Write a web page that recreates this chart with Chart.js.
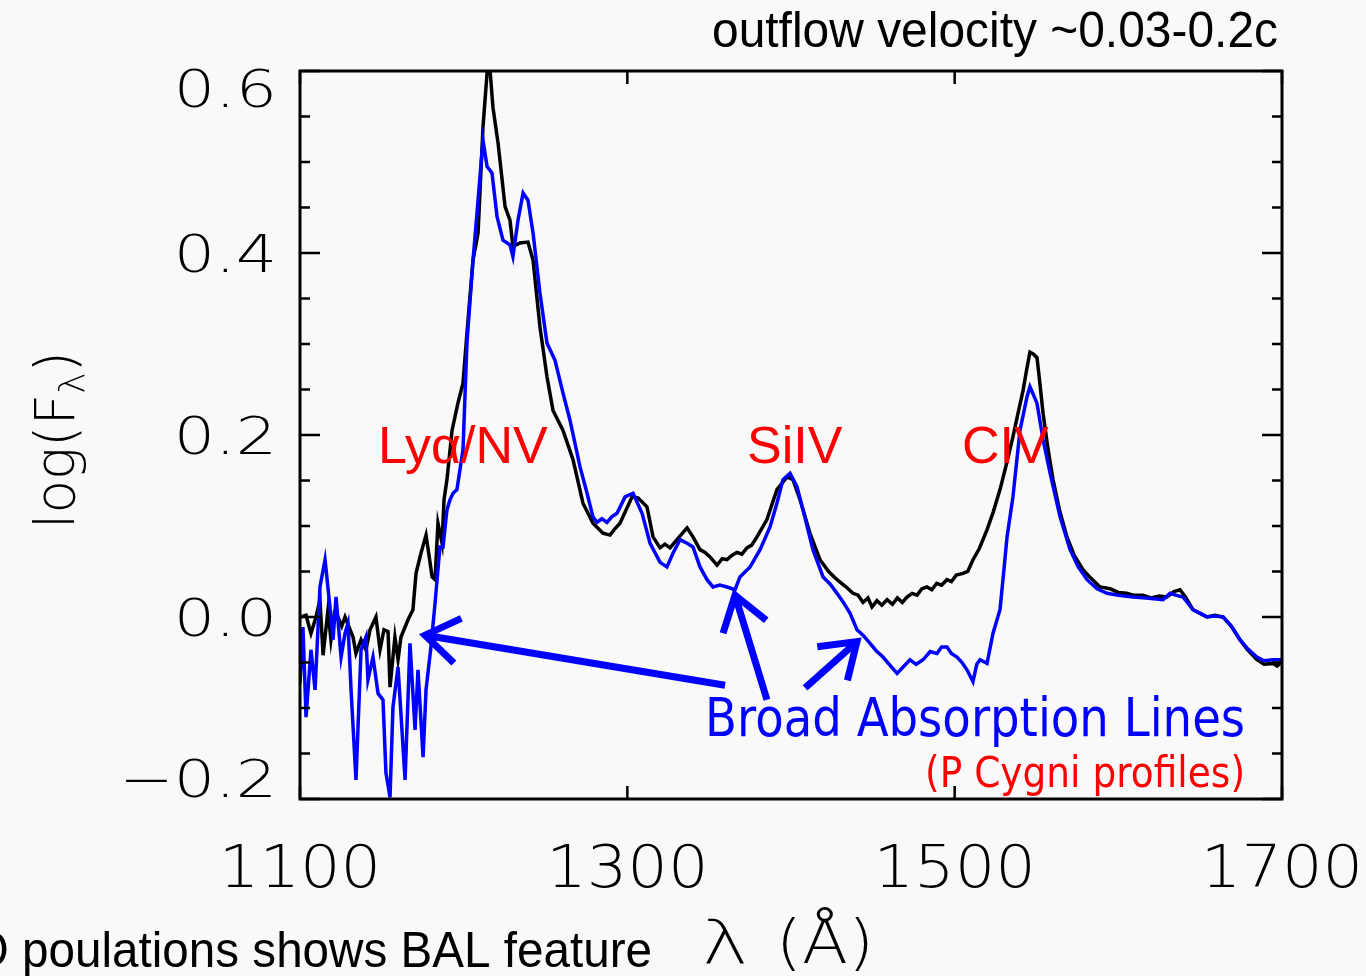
<!DOCTYPE html>
<html>
<head>
<meta charset="utf-8">
<script src="https://cdn.jsdelivr.net/npm/chart.js@4"></script>
<style>
  html, body { margin: 0; padding: 0; background: #f9f9f9; }
  canvas { display: block; }
</style>
</head>
<body>
<canvas id="spec" width="1366" height="976"></canvas>
<script>
// BAL quasar composite spectrum - log flux vs rest wavelength

// black: non-BAL composite
const blackWave = [1100.6,1103.7,1106.7,1109.8,1112.2,1114.1,1117.1,1118.9,1121.0,1123.2,1125.5,1127.5,1130.6,1132.4,1134.2,1137.3,1140.3,1142.8,1146.4,1148.9,1151.3,1153.8,1155.0,1158.0,1159.9,1161.7,1166.0,1169.0,1170.9,1173.9,1177.0,1178.8,1180.7,1182.5,1184.3,1186.8,1188.0,1189.8,1192.9,1196.5,1199.6,1202.0,1205.7,1208.8,1211.8,1214.3,1215.5,1217.9,1221.0,1225.3,1228.3,1230.1,1234.4,1239.3,1242.4,1246.6,1250.9,1254.6,1260.7,1266.8,1272.9,1279.0,1285.1,1289.4,1292.0,1295.5,1302.9,1306.5,1312.0,1315.7,1320.0,1323.0,1326.1,1330.3,1336.5,1340.1,1344.4,1347.5,1350.5,1354.8,1358.0,1360.9,1364.0,1367.0,1370.0,1373.1,1376.0,1379.2,1385.3,1391.4,1397.6,1401.2,1405.5,1411.6,1417.7,1423.0,1428.1,1433.0,1437.9,1441.0,1444.0,1447.0,1449.5,1452.5,1455.5,1458.7,1462.0,1465.0,1468.0,1470.9,1474.0,1477.0,1480.0,1483.1,1486.0,1489.0,1492.0,1495.3,1498.0,1501.0,1505.1,1508.0,1511.2,1515.0,1519.8,1523.5,1527.7,1531.5,1535.6,1538.5,1541.8,1544.0,1546.0,1548.0,1550.3,1552.0,1554.0,1557.0,1560.1,1564.0,1568.6,1573.0,1578.4,1583.0,1588.8,1595.0,1600.0,1605.0,1609.0,1615.0,1620.0,1625.0,1629.7,1634.0,1637.7,1641.0,1645.6,1650.0,1654.2,1659.0,1664.0,1669.0,1674.3,1679.0,1684.7,1689.0,1694.5,1697.0,1700.0];
const blackFlux = [0.000,0.002,-0.018,0.000,0.019,-0.042,0.008,-0.025,0.004,0.000,-0.010,0.000,-0.014,-0.022,-0.040,-0.025,-0.036,-0.014,0.000,-0.036,-0.014,-0.016,-0.077,-0.022,-0.047,-0.022,-0.003,0.008,0.048,0.070,0.090,0.068,0.044,0.041,0.103,0.081,0.129,0.151,0.205,0.235,0.257,0.312,0.392,0.422,0.538,0.598,0.615,0.560,0.521,0.451,0.436,0.407,0.411,0.412,0.392,0.319,0.264,0.227,0.205,0.173,0.125,0.103,0.092,0.090,0.096,0.103,0.132,0.131,0.121,0.088,0.076,0.080,0.076,0.085,0.098,0.088,0.074,0.071,0.066,0.057,0.064,0.063,0.068,0.071,0.069,0.076,0.079,0.088,0.107,0.140,0.154,0.151,0.129,0.092,0.063,0.050,0.041,0.034,0.026,0.024,0.016,0.021,0.011,0.018,0.013,0.019,0.014,0.021,0.016,0.022,0.026,0.024,0.031,0.033,0.030,0.037,0.035,0.041,0.039,0.046,0.048,0.050,0.063,0.075,0.096,0.115,0.140,0.167,0.198,0.222,0.249,0.272,0.291,0.289,0.285,0.258,0.224,0.185,0.151,0.118,0.088,0.068,0.052,0.043,0.033,0.031,0.027,0.026,0.024,0.024,0.021,0.023,0.022,0.028,0.030,0.022,0.008,0.004,0.000,0.002,0.000,-0.010,-0.025,-0.036,-0.047,-0.052,-0.051,-0.054,-0.049];

// blue: BAL composite
const blueWave = [1100.0,1101.8,1103.7,1106.7,1109.2,1112.2,1115.3,1118.3,1120.2,1122.0,1125.1,1127.5,1129.3,1131.2,1134.2,1137.3,1140.3,1141.5,1144.6,1147.7,1150.7,1152.5,1155.0,1156.8,1159.9,1164.2,1167.2,1170.3,1172.1,1175.2,1177.0,1180.0,1182.5,1185.5,1187.4,1189.8,1191.7,1193.5,1195.9,1199.6,1202.0,1205.7,1208.8,1211.8,1214.3,1217.3,1220.4,1224.0,1228.3,1230.1,1233.2,1236.3,1239.3,1242.4,1246.6,1250.9,1255.8,1260.7,1265.0,1271.1,1275.4,1279.0,1281.5,1284.5,1287.6,1290.5,1293.7,1298.6,1303.5,1309.0,1313.9,1320.0,1324.2,1327.9,1332.2,1336.5,1340.1,1344.4,1348.7,1352.3,1356.5,1360.9,1365.8,1368.8,1375.0,1381.1,1387.2,1391.4,1395.1,1399.4,1403.7,1407.3,1413.4,1419.6,1424.0,1428.1,1432.0,1436.1,1440.3,1444.0,1448.3,1452.0,1456.2,1460.0,1464.8,1468.5,1472.7,1476.5,1480.7,1485.0,1489.2,1492.0,1495.3,1498.0,1501.4,1504.5,1507.5,1511.2,1513.5,1515.5,1519.8,1523.4,1527.7,1530.0,1532.0,1535.6,1539.9,1544.2,1546.0,1550.3,1554.0,1558.3,1564.4,1570.5,1575.5,1580.9,1587.0,1593.1,1600.0,1609.0,1617.0,1627.3,1631.6,1635.0,1639.5,1645.6,1650.0,1654.2,1659.0,1664.0,1669.0,1674.3,1679.0,1684.7,1689.0,1694.5,1700.0];
const blueFlux = [-0.073,-0.011,-0.110,-0.036,-0.080,0.033,0.063,0.011,-0.025,0.022,-0.044,-0.018,-0.007,-0.080,-0.179,-0.036,-0.022,-0.069,-0.044,-0.084,-0.091,-0.171,-0.198,-0.099,-0.055,-0.179,-0.029,-0.124,-0.058,-0.154,-0.080,-0.033,0.015,0.077,0.077,0.118,0.129,0.136,0.140,0.184,0.301,0.392,0.458,0.524,0.495,0.488,0.440,0.414,0.409,0.396,0.436,0.466,0.458,0.422,0.356,0.301,0.282,0.246,0.216,0.165,0.136,0.110,0.104,0.108,0.104,0.110,0.114,0.132,0.136,0.114,0.081,0.060,0.055,0.070,0.085,0.081,0.077,0.055,0.041,0.033,0.035,0.033,0.030,0.044,0.055,0.074,0.099,0.125,0.151,0.158,0.143,0.118,0.074,0.044,0.036,0.026,0.016,0.004,-0.014,-0.020,-0.029,-0.037,-0.044,-0.052,-0.062,-0.055,-0.047,-0.052,-0.047,-0.038,-0.040,-0.033,-0.033,-0.040,-0.044,-0.050,-0.058,-0.071,-0.052,-0.047,-0.051,-0.018,0.008,0.050,0.088,0.132,0.205,0.242,0.253,0.235,0.195,0.158,0.110,0.074,0.055,0.041,0.031,0.026,0.024,0.022,0.021,0.019,0.026,0.024,0.022,0.008,0.004,0.000,0.001,0.000,-0.010,-0.025,-0.035,-0.044,-0.048,-0.047,-0.047];

// axes
const xTickValues = [1100, 1300, 1500, 1700];
const xTickLabels = ['1100', '1300', '1500', '1700'];
const yTickValues = [0.6, 0.4, 0.2, 0.0, -0.2];
const yTickLabels = ['0.6', '0.4', '0.2', '0.0', '\u22120.2'];

// line labels and arrows, in data units
const lineLabels = [
    { text: 'Ly\u03b1/NV', x: 1147.7, y: 0.169 },
    { text: 'SiIV', x: 1373.1, y: 0.169 },
    { text: 'CIV', x: 1504.5, y: 0.169 }
];
const arrows = [
    { from: [1359.7, -0.075], to: [1176.4, -0.020] },
    { from: [1385.3, -0.091], to: [1365.8, 0.024] },
    { from: [1408.6, -0.078], to: [1440.3, -0.027] }
];

const THIN = '200';

function toPoints(xs, ys) {
    return xs.map((x, i) => ({ x: x, y: ys[i] }));
}

// text stretched horizontally by sx, like the wide IDL vector font
function drawWide(ctx, s, x, y, sx, align) {
    const w = ctx.measureText(s).width * sx;
    const left = align === 'right' ? x - w : align === 'center' ? x - w / 2 : x;
    ctx.save();
    ctx.translate(left, y);
    ctx.scale(sx, 1);
    ctx.textAlign = 'left';
    ctx.fillText(s, 0, 0);
    ctx.restore();
}

function fitText(ctx, s, x, y, width, align) {
    const w = ctx.measureText(s).width;
    ctx.save();
    ctx.translate(x, y);
    ctx.scale(width / w, 1);
    ctx.textAlign = align;
    ctx.fillText(s, 0, 0);
    ctx.restore();
}

function drawArrow(ctx, x0, y0, x1, y1) {
    const ang = Math.atan2(y0 - y1, x0 - x1);
    const head = 40, spread = 0.6;
    ctx.beginPath();
    ctx.moveTo(x0, y0);
    ctx.lineTo(x1 + Math.cos(ang) * 6, y1 + Math.sin(ang) * 6);
    ctx.moveTo(x1 + Math.cos(ang + spread) * head, y1 + Math.sin(ang + spread) * head);
    ctx.lineTo(x1, y1);
    ctx.lineTo(x1 + Math.cos(ang - spread) * head, y1 + Math.sin(ang - spread) * head);
    ctx.stroke();
}

const background = {
    id: 'background',
    beforeDraw(chart) {
        const ctx = chart.ctx;
        ctx.save();
        ctx.fillStyle = '#f9f9f9';
        ctx.fillRect(0, 0, chart.width, chart.height);
        ctx.restore();
    }
};

// IDL style frame: inward ticks on all four sides, labels outside
const idlFrame = {
    id: 'idlFrame',
    afterDraw(chart) {
        const ctx = chart.ctx;
        const a = chart.chartArea;
        const xs = chart.scales.x, ys = chart.scales.y;
        ctx.save();
        ctx.strokeStyle = '#000';
        ctx.lineWidth = 3;
        ctx.strokeRect(a.left, a.top, a.right - a.left, a.bottom - a.top);

        ctx.lineWidth = 2.5;
        ctx.beginPath();
        xTickValues.forEach(v => {
            const px = xs.getPixelForValue(v);
            ctx.moveTo(px, a.bottom); ctx.lineTo(px, a.bottom - 13);
            ctx.moveTo(px, a.top); ctx.lineTo(px, a.top + 13);
        });
        for (let k = -4; k <= 12; k++) {
            const py = ys.getPixelForValue(k * 0.05);
            const len = (k % 4 === 0) ? 20 : 10;
            ctx.moveTo(a.left, py); ctx.lineTo(a.left + len, py);
            ctx.moveTo(a.right, py); ctx.lineTo(a.right - len, py);
        }
        ctx.stroke();

        // tick labels
        ctx.fillStyle = '#000';
        ctx.textBaseline = 'middle';
        ctx.font = THIN + ' 52px "DejaVu Sans"';
        yTickValues.forEach((v, i) => {
            let py = ys.getPixelForValue(v) + 5;
            py = Math.max(a.top + 22, Math.min(a.bottom - 16, py));
            drawWide(ctx, yTickLabels[i], a.left - 23, py, 1.25, 'right');
        });
        ctx.font = THIN + ' 58px "DejaVu Sans"';
        xTickValues.forEach((v, i) => {
            drawWide(ctx, xTickLabels[i], xs.getPixelForValue(v), 872, 1.1, 'center');
        });

        // axis titles
        ctx.textBaseline = 'alphabetic';
        ctx.font = THIN + ' 60px "DejaVu Sans"';
        drawWide(ctx, '\u03bb', 725, 963, 1.3, 'center');
        drawWide(ctx, '(\u00c5)', 825, 963, 1.12, 'center');

        ctx.save();
        ctx.translate(74, 440);
        ctx.rotate(-Math.PI / 2);
        ctx.font = THIN + ' 55px "DejaVu Sans"';
        const w1 = ctx.measureText('log(F').width;
        ctx.font = THIN + ' 36px "DejaVu Sans"';
        const w2 = ctx.measureText('\u03bb').width;
        ctx.font = THIN + ' 55px "DejaVu Sans"';
        const w3 = ctx.measureText(')').width;
        const x0 = -(w1 + w2 + w3) / 2;
        ctx.textAlign = 'left';
        ctx.fillText('log(F', x0, 0);
        ctx.font = THIN + ' 36px "DejaVu Sans"';
        ctx.fillText('\u03bb', x0 + w1, 10);
        ctx.font = THIN + ' 55px "DejaVu Sans"';
        ctx.fillText(')', x0 + w1 + w2, 0);
        ctx.restore();

        // annotations
        ctx.fillStyle = '#ff0000';
        ctx.font = '52px "Liberation Sans"';
        lineLabels.forEach(l => {
            ctx.textAlign = 'left';
            ctx.fillText(l.text, xs.getPixelForValue(l.x), ys.getPixelForValue(l.y));
        });

        ctx.strokeStyle = '#0000ff';
        ctx.lineWidth = 7;
        ctx.lineCap = 'butt';
        arrows.forEach(ar => {
            drawArrow(ctx,
                xs.getPixelForValue(ar.from[0]), ys.getPixelForValue(ar.from[1]),
                xs.getPixelForValue(ar.to[0]), ys.getPixelForValue(ar.to[1]));
        });

        ctx.fillStyle = '#0000ff';
        ctx.font = '54px "DejaVu Sans"';
        fitText(ctx, 'Broad Absorption Lines', xs.getPixelForValue(1347.5), ys.getPixelForValue(-0.131), 540, 'left');
        ctx.fillStyle = '#ff0000';
        ctx.font = '42px "DejaVu Sans"';
        fitText(ctx, '(P Cygni profiles)', xs.getPixelForValue(1677.4), ys.getPixelForValue(-0.187), 320, 'right');

        // captions around the figure
        ctx.fillStyle = '#000';
        ctx.font = '50px "Liberation Sans"';
        fitText(ctx, 'outflow velocity ~0.03-0.2c', 1278, 47, 566, 'right');
        const full = 'QSO poulations shows BAL feature';
        const k = 630 / ctx.measureText('poulations shows BAL feature').width;
        fitText(ctx, full, 652, 967, ctx.measureText(full).width * k, 'right');
        ctx.restore();
    }
};

new Chart(document.getElementById('spec'), {
    type: 'line',
    data: {
        datasets: [
            {
                label: 'BAL',
                data: toPoints(blueWave, blueFlux),
                borderColor: '#0000ff',
                borderWidth: 3.5,
                pointRadius: 0,
                tension: 0,
                order: 0
            },
            {
                label: 'non-BAL',
                data: toPoints(blackWave, blackFlux),
                borderColor: '#000000',
                borderWidth: 3.5,
                pointRadius: 0,
                tension: 0,
                order: 1
            }
        ]
    },
    options: {
        responsive: false,
        animation: false,
        layout: { padding: { left: 300, top: 71, right: 84, bottom: 177 } },
        plugins: { legend: { display: false }, tooltip: { enabled: false } },
        scales: {
            x: { type: 'linear', min: 1100, max: 1700, display: false },
            y: { type: 'linear', min: -0.2, max: 0.6, display: false }
        }
    },
    plugins: [background, idlFrame]
});
</script>
</body>
</html>
